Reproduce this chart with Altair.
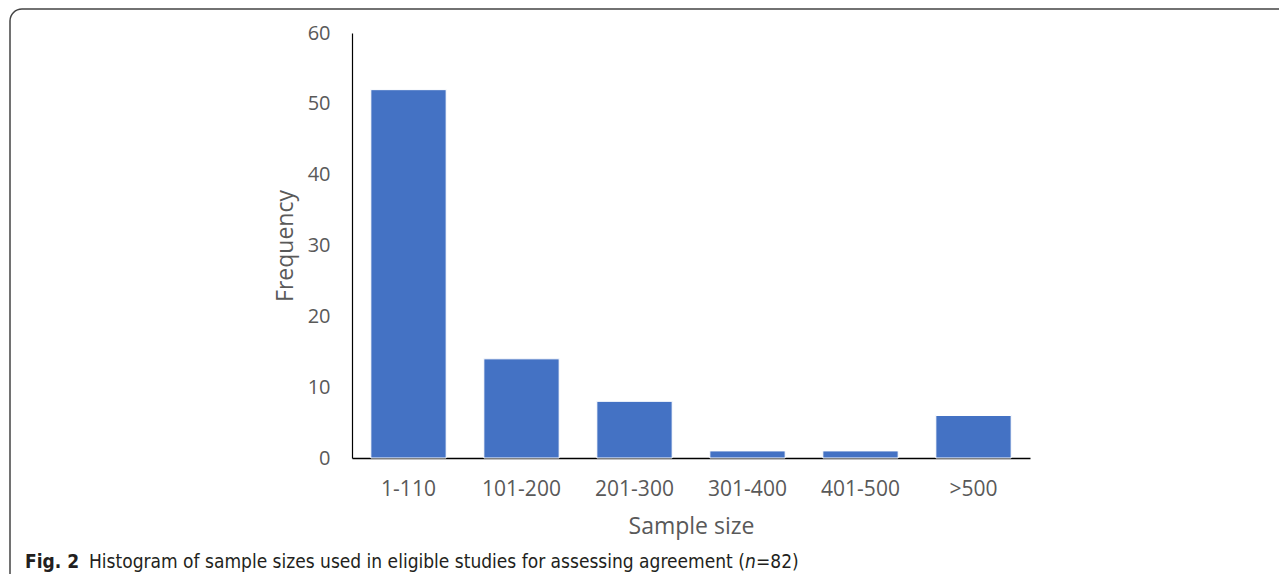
import altair as alt
import pandas as pd

categories = ["1-110", "101-200", "201-300", "301-400", "401-500", ">500"]
frequency = [52, 14, 8, 1, 1, 6]
y_ticks = [0, 10, 20, 30, 40, 50, 60]

df = pd.DataFrame({"cat": categories, "freq": frequency})

FONT = "Open Sans"
GREY = "#595959"

bars = alt.Chart(df).mark_bar(color="#4472C4", stroke="white", strokeWidth=1).encode(
    x=alt.X("cat:N", sort=categories,
            scale=alt.Scale(paddingInner=1/3, paddingOuter=1/6),
            axis=alt.Axis(title="Sample size", labelAngle=0, ticks=False,
                          domainColor="black", domainWidth=1.5,
                          labelFont=FONT, labelFontSize=21, labelColor=GREY,
                          labelPadding=20, titleFont=FONT, titleFontSize=23,
                          titleFontWeight="normal", titleColor=GREY, titlePadding=16)),
    y=alt.Y("freq:Q", scale=alt.Scale(domain=[0, 60], nice=False),
            axis=alt.Axis(title="Frequency", values=y_ticks, ticks=False, grid=False,
                          domainColor="black", domainWidth=1.2,
                          labelFont=FONT, labelFontSize=20, labelColor=GREY,
                          labelPadding=22, titleFont=FONT, titleFontSize=23,
                          titleFontWeight="normal", titleColor=GREY, titlePadding=10)),
)

one = alt.Data(values=[{"a": 1}])

frame = alt.Chart(one).mark_rect(fill="transparent", stroke="#444444", strokeWidth=1.5,
                                 cornerRadius=12).encode(
    x=alt.value(-342), y=alt.value(-24), x2=alt.value(960), y2=alt.value(590))

cap_font = "Liberation Sans Narrow, DejaVu Sans Condensed, sans-serif"
CAP_Y = 535
cap1 = alt.Chart(one).mark_text(text="Fig. 2", font=cap_font, fontSize=19, fontWeight="bold",
                                align="left", baseline="alphabetic", color="#231f20").encode(
    x=alt.value(-327), y=alt.value(CAP_Y))
cap2 = alt.Chart(one).mark_text(
    text="Histogram of sample sizes used in eligible studies for assessing agreement (",
    font=cap_font, fontSize=19, align="left", baseline="alphabetic", color="#231f20").encode(
    x=alt.value(-263), y=alt.value(CAP_Y))
cap3 = alt.Chart(one).mark_text(text="n", font=cap_font, fontSize=19, fontStyle="italic",
                                align="left", baseline="alphabetic", color="#231f20").encode(
    x=alt.value(393), y=alt.value(CAP_Y))
cap4 = alt.Chart(one).mark_text(text="=82)", font=cap_font, fontSize=19,
                                align="left", baseline="alphabetic", color="#231f20").encode(
    x=alt.value(404), y=alt.value(CAP_Y))

chart = alt.layer(bars, frame, cap1, cap2, cap3, cap4).properties(
    width=678, height=425,
    background="white",
    autosize=alt.AutoSizeParams(type="none"),
    padding={"left": 344, "top": 25, "right": 249, "bottom": 116},
).configure_view(strokeWidth=0, stroke="transparent")

chart.save("out.html", embed_options={"renderer": "svg", "actions": False})
